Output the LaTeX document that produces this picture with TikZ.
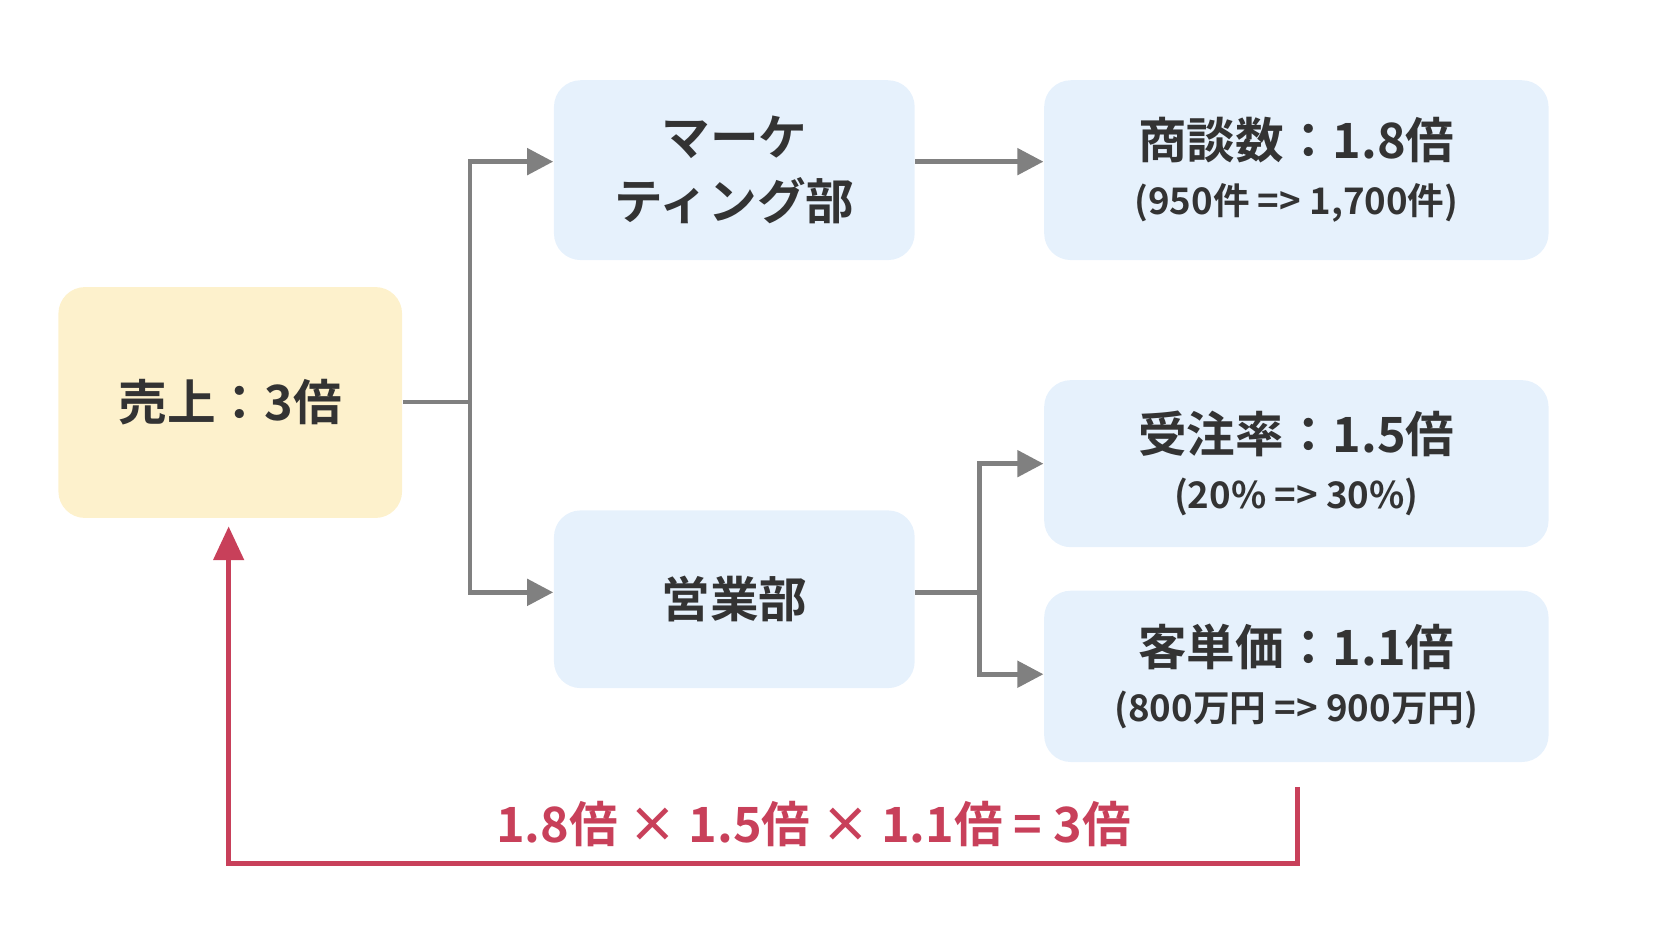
\documentclass[tikz,border=0pt]{standalone}
\usepackage{fontspec}
\setmainfont{Noto Sans CJK JP}[BoldFont={Noto Sans CJK JP Bold}]
\usetikzlibrary{arrows.meta}
\definecolor{bx}{HTML}{E6F1FC}
\definecolor{yb}{HTML}{FDF1CC}
\definecolor{ln}{HTML}{808080}
\definecolor{rd}{HTML}{C8405A}
\definecolor{tx}{HTML}{333333}
\newcommand\subtx[1]{{\bfseries\fontsize{9.8}{12}\selectfont #1}}
\begin{document}
\begin{tikzpicture}[x=0.01cm,y=-0.01cm,
  box/.style={rounded corners=0.25cm,fill=bx,draw=none,text=tx,font=\bfseries\fontsize{13}{17}\selectfont,align=center,inner sep=0},
  con/.style={ln,line width=1.3pt,-{Triangle[length=7pt,width=7pt]}},
  con0/.style={ln,line width=1.3pt}]
\useasboundingbox (0,0) rectangle (1560,891);
\node[box,fill=yb,minimum width=3.23cm,minimum height=2.17cm] (s) at (216.5,378.5) {売上：3倍};
\node[box,minimum width=3.39cm,minimum height=1.69cm] (m) at (690.5,160) {マーケ\\ティング部};
\node[box,minimum width=3.39cm,minimum height=1.67cm] (e) at (690.5,563.5) {営業部};
\node[box,minimum width=4.74cm,minimum height=1.69cm] (a) at (1219,160) {商談数：1.8倍\\[-2pt]\subtx{(950件 => 1,700件)}};
\node[box,minimum width=4.74cm,minimum height=1.57cm] (b) at (1219,436) {受注率：1.5倍\\[-2pt]\subtx{(20\% => 30\%)}};
\node[box,minimum width=4.74cm,minimum height=1.61cm] (c) at (1219,636) {客単価：1.1倍\\[-2pt]\subtx{(800万円 => 900万円)}};
\coordinate (j1) at (442,378);
\coordinate (j2) at (921,557);
\draw[con0] (s.east |- j1) -- (j1);
\draw[con] (j1) |- (m.west |- 0,152);
\draw[con] (j1) |- (e.west |- 0,557);
\draw[con] (m.east |- 0,152) -- (a.west |- 0,152);
\draw[con0] (e.east |- j2) -- (j2);
\draw[con] (j2) |- (b.west |- 0,436);
\draw[con] (j2) |- (c.west |- 0,634);
\coordinate (r0) at (1220,740);
\coordinate (r3) at (215,495);
\draw[rd,line width=1.3pt,-{Triangle[length=9pt,width=8pt]}] (r0) -- (1220,812) -- (215,812) -- (r3);
\node[text=rd,font=\bfseries\fontsize{13}{15}\selectfont] (f) at (765,775) {1.8倍 × 1.5倍 × 1.1倍 = 3倍};
\end{tikzpicture}
\end{document}
